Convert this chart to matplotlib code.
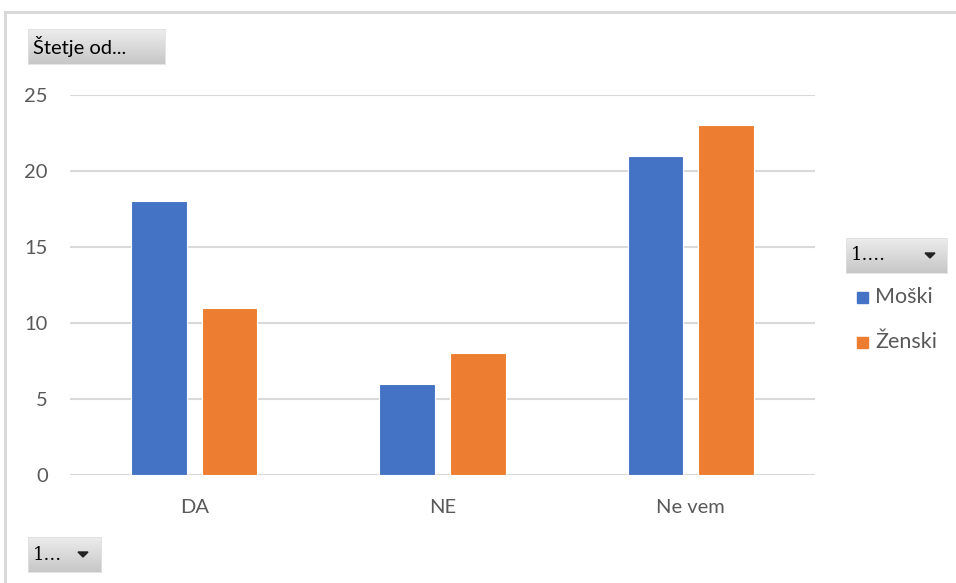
import numpy as np
import matplotlib
matplotlib.use("Agg")
import matplotlib.pyplot as plt

plt.rcParams['font.family'] = ['Lato', 'DejaVu Sans']

categories = ['DA', 'NE', 'Ne vem']
moski = [18, 6, 21]
zenski = [11, 8, 23]
series_names = ['Moški', 'Ženski']
yticks = [0, 5, 10, 15, 20, 25]

blue = '#4472c4'
orange = '#ed7d31'
grid_col = '#d9d9d9'
text_col = '#595959'

W, H = 956, 583
fig = plt.figure(figsize=(W / 100, H / 100), dpi=100)


def fx(px):
    return px / W


def fy(py):
    return 1 - py / H


# outer chart frame (only top and left edges visible)
fig.add_artist(plt.Line2D([fx(5), fx(956)], [fy(12), fy(12)], color='#d9d9d9', lw=2.2))
fig.add_artist(plt.Line2D([fx(5), fx(5)], [fy(12), fy(583)], color='#d9d9d9', lw=2.2))

ax = fig.add_axes([fx(70), fy(475), fx(815 - 70), fy(95) - fy(475)])
x = np.arange(len(categories))
w = 0.2235
off = 0.142
ax.bar(x - off, moski, w, color=blue, edgecolor='white', linewidth=0.8, zorder=3)
ax.bar(x + off, zenski, w, color=orange, edgecolor='white', linewidth=0.8, zorder=3)
ax.set_xlim(-0.5, 2.5)
ax.set_ylim(0, 25)
ax.set_yticks(yticks)
ax.set_yticklabels([str(t) for t in yticks], fontsize=14.5, color=text_col)
ax.set_xticks(x)
ax.set_xticklabels(categories, fontsize=14.5, color=text_col)
ax.tick_params(axis='both', length=0)
ax.tick_params(axis='y', pad=16)
ax.tick_params(axis='x', pad=17)
ax.grid(axis='y', color=grid_col, lw=1.5, zorder=0)
for s in ax.spines.values():
    s.set_visible(False)


def button(x0, y0, x1, y1, label, arrow=None, family=None, size=13):
    bax = fig.add_axes([fx(x0), fy(y1), fx(x1 - x0), fy(y0) - fy(y1)])
    grad = np.linspace(0, 1, 50).reshape(-1, 1)
    top = np.array([0.93, 0.93, 0.93])
    bot = np.array([0.78, 0.78, 0.78])
    img = top + (bot - top) * grad[..., None]
    bax.imshow(img, aspect='auto', extent=[0, 1, 0, 1], origin='upper')
    bax.set_xlim(0, 1)
    bax.set_ylim(0, 1)
    bax.set_xticks([])
    bax.set_yticks([])
    for s in bax.spines.values():
        s.set_color('#e0e0e0')
        s.set_linewidth(0.6)
    kw = {}
    if family:
        kw['family'] = family
    bax.text(5 / (x1 - x0), 0.5, label, fontsize=size, color='black', va='center', ha='left', **kw)
    if arrow is not None:
        ax_c = (arrow - x0) / (x1 - x0)
        hw = 5 / (x1 - x0)
        hh = 5 / (y1 - y0)
        bax.fill([ax_c - hw, ax_c + hw, ax_c], [0.5 + hh / 2, 0.5 + hh / 2, 0.5 - hh / 2], color='#222222')


button(28, 29, 165, 64, 'Štetje od...', size=14.5)
button(846, 238, 947, 273, '1....', arrow=930, family=['DejaVu Serif'], size=13)
button(28, 537, 101, 572, '1...', arrow=83, family=['DejaVu Serif'], size=13)

# legend
for name, col, py in zip(series_names, [blue, orange], [297, 342]):
    fig.patches.append(plt.Rectangle((fx(857), fy(py + 6)), fx(11), fy(py - 5) - fy(py + 6),
                                     transform=fig.transFigure, color=col, figure=fig))
    fig.text(fx(875), fy(py), name, fontsize=15.5, color=text_col, va='center', ha='left')

fig.savefig('out.png', dpi=100)
